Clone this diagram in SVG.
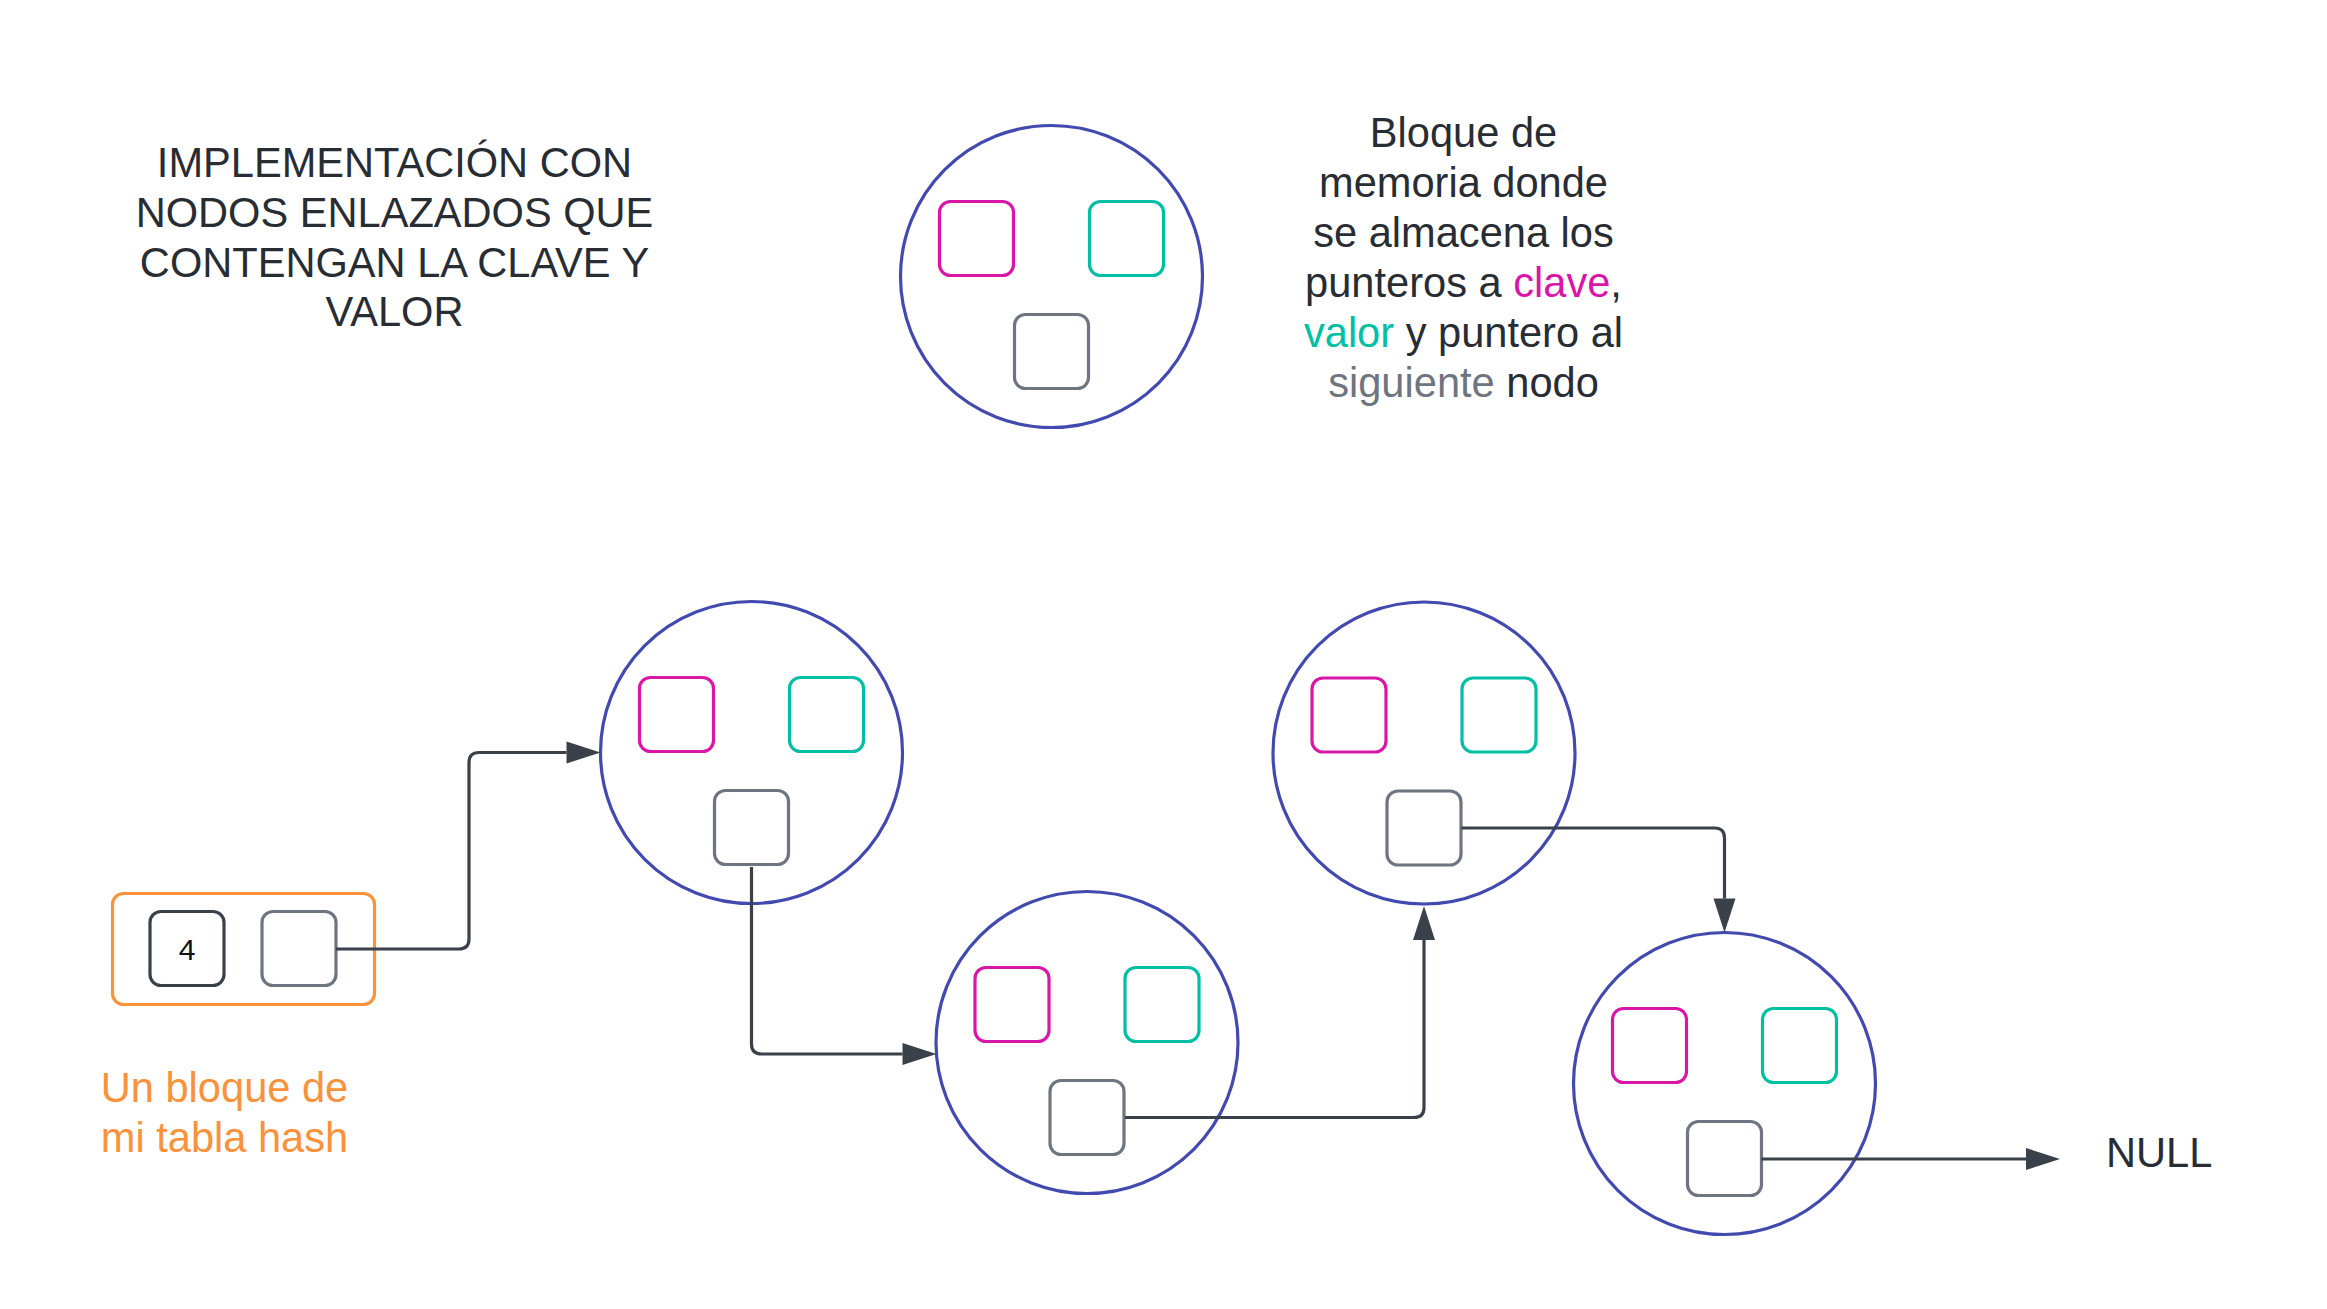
<svg xmlns="http://www.w3.org/2000/svg" width="2327" height="1309" viewBox="0 0 2327 1309">
  <style>
    .t { font-family: "Liberation Sans", Arial, sans-serif; font-size: 41.6px; fill: #282C33; }
    .mid { text-anchor: middle; }
    .circ { fill: #FFFFFF; stroke: #434AAF; stroke-width: 3.2; }
    .k { fill: #FFFFFF; stroke: #D916A8; stroke-width: 3.2; }
    .v { fill: #FFFFFF; stroke: #00BFA5; stroke-width: 3.2; }
    .n { fill: #FFFFFF; stroke: #6F7580; stroke-width: 3.2; }
    .conn { fill: none; stroke: #3A414A; stroke-width: 3.2; marker-end: url(#arrow); }
  </style>
  <defs>
    <marker id="arrow" markerUnits="userSpaceOnUse" markerWidth="34" markerHeight="22" refX="0" refY="11" orient="auto" overflow="visible">
      <path d="M0,0 L34,11 L0,22 Z" fill="#3A414A"/>
    </marker>
    <g id="nodeShape">
      <circle class="circ" cx="0" cy="0" r="151"/>
      <rect class="k" x="-112" y="-75" width="74" height="74" rx="11"/>
      <rect class="v" x="38" y="-75" width="74" height="74" rx="11"/>
      <rect class="n" x="-37" y="38" width="74" height="74" rx="11"/>
    </g>
  </defs>
  <rect width="2327" height="1309" fill="#FFFFFF"/>

  <g id="title">
    <text class="t mid" x="394.5" y="177">IMPLEMENTACIÓN CON</text>
    <text class="t mid" x="394.5" y="227">NODOS ENLAZADOS QUE</text>
    <text class="t mid" x="394.5" y="277">CONTENGAN LA CLAVE Y</text>
    <text class="t mid" x="394.5" y="326">VALOR</text>
  </g>

  <g id="legend-node">
    <use href="#nodeShape" x="1051.5" y="276.5"/>
  </g>

  <g id="legend-text">
    <text class="t mid" x="1463.5" y="146.5">Bloque de</text>
    <text class="t mid" x="1463.5" y="197">memoria donde</text>
    <text class="t mid" x="1463.5" y="247">se almacena los</text>
    <text class="t mid" x="1463.5" y="297">punteros a <tspan fill="#D916A8">clave</tspan>,</text>
    <text class="t mid" x="1463.5" y="347"><tspan fill="#00BFA5">valor</tspan> y puntero al</text>
    <text class="t mid" x="1463.5" y="397"><tspan fill="#6F7580">siguiente</tspan> nodo</text>
  </g>

  <g id="hash-block">
    <rect x="112.5" y="893.5" width="262" height="111" rx="11" fill="#FFFFFF" stroke="#F9923A" stroke-width="3.2"/>
    <rect x="150" y="911.5" width="74" height="74" rx="11" fill="#FFFFFF" stroke="#3A414A" stroke-width="3.2"/>
    <text x="187" y="960" text-anchor="middle" font-family="Liberation Sans, Arial, sans-serif" font-size="30" fill="#111111">4</text>
    <rect x="262" y="911.5" width="74" height="74" rx="11" fill="#FFFFFF" stroke="#6F7580" stroke-width="3.2"/>
  </g>

  <g id="hash-label">
    <text class="t mid" x="224.5" y="1102" style="fill:#F9923A">Un bloque de</text>
    <text class="t mid" x="224.5" y="1152" style="fill:#F9923A">mi tabla hash</text>
  </g>

  <g id="node1"><use href="#nodeShape" x="751.5" y="752.5"/></g>
  <g id="node2"><use href="#nodeShape" x="1087" y="1042.5"/></g>
  <g id="node3"><use href="#nodeShape" x="1424" y="753"/></g>
  <g id="node4"><use href="#nodeShape" x="1724.5" y="1083.5"/></g>

  <g id="null-label">
    <text class="t" x="2106" y="1167">NULL</text>
  </g>

  <g id="connectors">
    <path class="conn" d="M336,949 H459 Q469,949 469,939 V762.5 Q469,752.5 479,752.5 H566.5"/>
    <path class="conn" d="M751.5,867 V1044 Q751.5,1054 761.5,1054 H902.5"/>
    <path class="conn" d="M1125,1117.5 H1414 Q1424,1117.5 1424,1107.5 V940"/>
    <path class="conn" d="M1461.5,828 H1714.5 Q1724.5,828 1724.5,838 V898.5"/>
    <path class="conn" d="M1761.5,1159 H2026"/>
  </g>
</svg>
